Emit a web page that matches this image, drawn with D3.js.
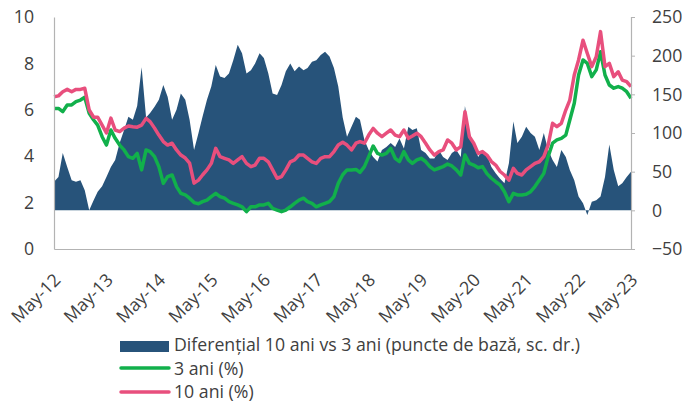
<!DOCTYPE html>
<html>
<head>
<meta charset="utf-8">
<script src="https://cdn.jsdelivr.net/npm/d3@7"></script>
<style>
  body { margin: 0; background: #fff; }
  svg text { font-family: "Open Sans", Lato, sans-serif; fill: #404040; }
</style>
</head>
<body>
<svg id="chart" width="682" height="404"></svg>
<script>
// monthly observations, May 2012 .. May 2023
const startMonth = new Date(2012, 4, 1);
const endMonth = new Date(2023, 4, 1);

// 10 year yield (%)
const yield10 = [
  6.56, 6.6, 6.78, 6.88, 6.78, 6.88, 6.88, 6.93,
  5.99, 5.68, 5.68, 5.34, 5.0, 5.64, 5.13, 5.06,
  5.21, 5.3, 5.27, 5.25, 5.34, 5.63, 5.49, 5.21,
  4.91, 4.63, 4.48, 4.56, 4.27, 4.05, 3.92, 3.7, 2.84,
  2.97,
  3.19, 3.41, 3.69, 4.34, 3.98, 3.91, 3.84,
  3.69, 3.84, 3.98, 3.69, 3.55, 3.62, 3.91, 3.91, 3.76,
  3.41, 3.05, 3.12, 3.41, 3.76, 3.84, 4.05, 4.05, 3.91,
  3.76, 3.69, 3.91, 3.98, 3.98, 4.2, 4.48,
  4.6,
  4.48, 4.27, 4.56, 4.63, 4.56, 4.91, 5.2, 4.99, 4.84,
  4.99, 5.13, 4.91, 4.84, 5.13, 4.77, 4.87, 4.99, 4.84,
  4.56, 4.27, 4.05, 4.2, 4.27, 4.7, 4.56, 4.27, 4.41,
  5.92, 4.84, 4.56, 4.12, 4.2,
  4.05,
  3.77, 3.62, 3.34, 3.19, 2.97, 3.48, 3.26, 3.19, 3.41,
  3.55, 3.69, 3.76, 3.98, 4.48, 5.42, 5.27, 5.42, 5.99,
  6.42, 7.5, 8.15, 9.0, 8.43, 7.86, 8.29, 9.37,
  7.86, 8.0, 7.43, 7.64, 7.28, 7.21, 7.0
];

// 3 year yield (%)
const yield3 = [
  6.06, 6.06, 5.92, 6.21, 6.21, 6.35, 6.42, 6.54,
  5.85, 5.56, 5.34, 4.84, 4.48, 5.13, 4.77, 4.48,
  4.27, 3.98, 3.91, 4.12, 3.41, 4.27, 4.2, 3.98,
  3.55, 2.83, 3.12, 3.19, 2.69, 2.4, 2.33, 2.19, 2.0,
  1.95,
  2.04, 2.11, 2.26, 2.4, 2.26, 2.19, 2.04,
  1.97, 1.9, 1.82, 1.61, 1.82, 1.82, 1.9, 1.9, 1.97,
  1.75, 1.68, 1.61, 1.68, 1.82, 1.97, 2.11, 2.19, 2.04,
  1.97, 1.82, 1.9, 1.97, 2.04, 2.26, 2.83,
  3.2,
  3.41, 3.41, 3.43, 3.3, 3.55, 3.98, 4.44, 4.12, 4.05,
  4.12, 4.34, 3.91, 3.77, 4.2, 3.84, 3.69, 3.84, 3.91,
  3.77, 3.55, 3.41, 3.48, 3.55, 3.66, 3.58, 3.41, 3.19,
  4.05, 3.69, 3.62, 3.5, 3.55,
  3.25,
  3.05, 2.9, 2.76, 2.47, 2.04, 2.4, 2.33, 2.33, 2.36,
  2.47, 2.69, 2.97, 3.26, 3.98, 4.56, 4.7, 4.77, 4.91,
  5.56, 6.28, 7.5, 8.15, 8.0, 7.43, 7.72, 8.5,
  7.5, 7.07, 6.93, 7.0, 6.93, 6.78, 6.5
];

// 10y vs 3y spread (basis points, right axis)
const spread = [
  37, 43, 74, 56, 39, 37, 39, 26,
  0, 13, 24, 31, 43, 56, 65, 87,
  104, 121, 117, 135, 185, 120, 126, 134,
  143, 162, 147, 117, 130, 151, 143, 117, 78,
  100,
  121, 143, 160, 188, 173, 171, 177,
  194, 214, 203, 177, 181, 190, 203, 197, 177,
  151, 149, 162, 180, 190, 180, 186, 181, 184,
  192, 194, 201, 205, 199, 184, 160,
  120,
  95, 108, 121, 117, 91, 78, 69, 63, 78,
  82, 87, 82, 93, 80, 108, 104, 106, 78,
  74, 67, 67, 78, 69, 65, 74, 78, 69,
  135, 100, 87, 69, 78,
  72,
  56, 48, 41, 35, 61, 115, 87, 95, 108,
  100, 95, 78, 100, 78, 65, 56, 78, 69,
  52, 39, 18, 9, -6, 11, 13, 18,
  43, 85, 52, 31, 35, 43, 50
];

const leftTicks = [0, 2, 4, 6, 8, 10];
const rightTicks = [-50, 0, 50, 100, 150, 200, 250];
const tickYears = [2012, 2013, 2014, 2015, 2016, 2017, 2018, 2019, 2020, 2021, 2022, 2023];
const seriesNames = [
  "Diferențial 10 ani vs 3 ani (puncte de bază, sc. dr.)",
  "3 ani (%)",
  "10 ani (%)"
];

const colors = { spread: "#27537a", y3: "#11b04b", y10: "#e84f7d", axis: "#b3b3b3" };
const fontSize = 17.7;

const months = d3.timeMonth.range(startMonth, d3.timeMonth.offset(endMonth, 1));
const svg = d3.select("#chart");

const x = d3.scaleTime().domain([startMonth, endMonth]).range([54, 631]);
const yL = d3.scaleLinear().domain([0, 10]).range([249, 17]);
const yR = d3.scaleLinear().domain([-50, 250]).range([249, 17]);

// spread area
const area = d3.area()
  .x((d, i) => x(months[i]))
  .y0(yR(0))
  .y1(d => yR(d));

svg.append("path")
  .attr("d", area(spread))
  .attr("fill", colors.spread);

// yield lines
const line = d3.line()
  .x((d, i) => x(months[i]))
  .y(d => yL(d));

svg.append("path")
  .attr("d", line(yield3))
  .attr("fill", "none")
  .attr("stroke", colors.y3)
  .attr("stroke-width", 3.5)
  .attr("stroke-linejoin", "round");

svg.append("path")
  .attr("d", line(yield10))
  .attr("fill", "none")
  .attr("stroke", colors.y10)
  .attr("stroke-width", 3.5)
  .attr("stroke-linejoin", "round");

// left axis
const gL = svg.append("g")
  .attr("transform", "translate(54,0)")
  .call(d3.axisLeft(yL).tickValues(leftTicks).tickSize(0).tickPadding(20));

// right axis
const gR = svg.append("g")
  .attr("transform", "translate(631,0)")
  .call(d3.axisRight(yR).tickValues(rightTicks).tickSize(4).tickPadding(17));

// bottom axis, one tick every May
const gB = svg.append("g")
  .attr("transform", "translate(0,249)")
  .call(d3.axisBottom(x)
    .tickValues(tickYears.map(y => new Date(y, 4, 1)))
    .tickFormat(d3.timeFormat("%b-%y"))
    .tickSize(0));

[gL, gR, gB].forEach(g => {
  g.select(".domain").attr("stroke", colors.axis).attr("stroke-width", 1.2);
  g.selectAll(".tick line").attr("stroke", colors.axis);
  g.selectAll("text").attr("font-size", fontSize).attr("fill", "#404040")
    .style("font-family", "'Open Sans', sans-serif");
});

gB.selectAll(".tick text")
  .attr("text-anchor", "end")
  .attr("dy", 0)
  .attr("transform", "translate(5,30) rotate(-45)");

// legend
const legend = svg.append("g").attr("transform", "translate(120,0)");

legend.append("rect")
  .attr("x", 0).attr("y", 341).attr("width", 49).attr("height", 11)
  .attr("fill", colors.spread);

legend.append("line")
  .attr("x1", 1).attr("x2", 49).attr("y1", 368).attr("y2", 368)
  .attr("stroke", colors.y3).attr("stroke-width", 3.5).attr("stroke-linecap", "round");

legend.append("line")
  .attr("x1", 1).attr("x2", 49).attr("y1", 392).attr("y2", 392)
  .attr("stroke", colors.y10).attr("stroke-width", 3.5).attr("stroke-linecap", "round");

legend.selectAll("text.lbl")
  .data(seriesNames)
  .join("text")
  .attr("class", "lbl")
  .attr("x", 54)
  .attr("y", (d, i) => [351, 375, 398][i])
  .attr("font-size", fontSize)
  .text(d => d);
</script>
</body>
</html>
